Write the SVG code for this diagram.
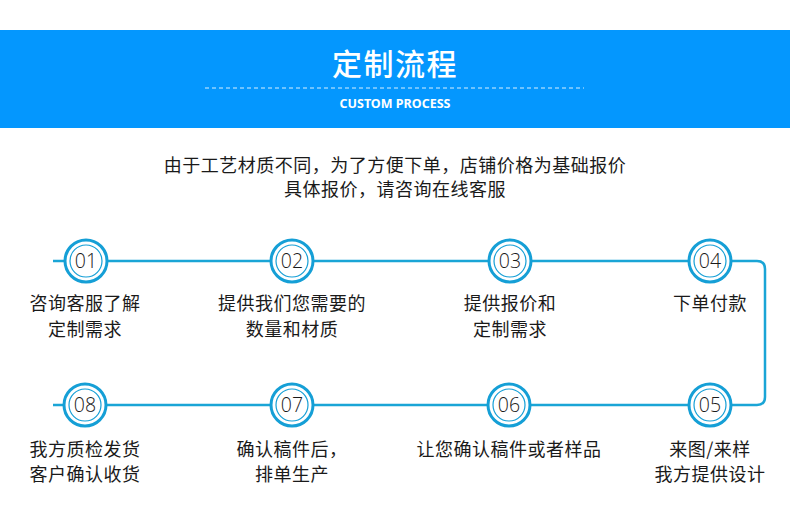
<svg xmlns="http://www.w3.org/2000/svg" width="790" height="505" viewBox="0 0 790 505">
<style>
.cn{font-family:"Noto Sans CJK SC","Noto Sans",sans-serif;font-size:18px;fill:#1a1a1a;text-anchor:middle;letter-spacing:0.5px}
.num{font-family:"Open Sans","Noto Sans",sans-serif;font-size:19.5px;font-weight:300;fill:#1a1a1a;text-anchor:middle}
.outer{fill:#fff;stroke:#159fd6;stroke-width:3}
.inner{fill:none;stroke:#159fd6;stroke-width:1.2}
.conn{fill:none;stroke:#1aa5d6;stroke-width:2.5}
</style>
<rect x="0" y="0" width="790" height="505" fill="#fff"/>
<g id="header">
<rect x="0" y="30" width="790" height="98" fill="#0497fe"/>
<text x="395" y="75" font-family="Noto Sans CJK SC,sans-serif" font-size="30" font-weight="500" fill="#fff" text-anchor="middle" letter-spacing="1.5">定制流程</text>
<line x1="205" y1="88" x2="584" y2="88" stroke="#fff" stroke-width="1" stroke-dasharray="4,3" opacity="0.85"/>
<text x="395" y="108" font-family="Noto Sans,sans-serif" font-size="12.5" font-weight="bold" fill="#fff" text-anchor="middle">CUSTOM PROCESS</text>
</g>
<g id="intro">
<text class="cn" x="395" y="172">由于工艺材质不同，为了方便下单，店铺价格为基础报价</text>
<text class="cn" x="395" y="196">具体报价，请咨询在线客服</text>
</g>
<g id="connectors">
<path class="conn" d="M53,261 H757 Q765,261 765,269 V397 Q765,405 757,405 H53"/>
</g>
<g id="step01">
<circle class="outer" cx="86" cy="261" r="21"/><circle class="inner" cx="86" cy="261" r="16"/>
<text class="num" x="86" y="268">01</text>
<text class="cn" x="85" y="310">咨询客服了解</text>
<text class="cn" x="85" y="336">定制需求</text>
</g>
<g id="step02">
<circle class="outer" cx="292" cy="261" r="21"/><circle class="inner" cx="292" cy="261" r="16"/>
<text class="num" x="292" y="268">02</text>
<text class="cn" x="292" y="310">提供我们您需要的</text>
<text class="cn" x="292" y="336">数量和材质</text>
</g>
<g id="step03">
<circle class="outer" cx="510" cy="261" r="21"/><circle class="inner" cx="510" cy="261" r="16"/>
<text class="num" x="510" y="268">03</text>
<text class="cn" x="510" y="310">提供报价和</text>
<text class="cn" x="510" y="336">定制需求</text>
</g>
<g id="step04">
<circle class="outer" cx="710" cy="261" r="21"/><circle class="inner" cx="710" cy="261" r="16"/>
<text class="num" x="710" y="268">04</text>
<text class="cn" x="710" y="310">下单付款</text>
</g>
<g id="step05">
<circle class="outer" cx="710" cy="405" r="21"/><circle class="inner" cx="710" cy="405" r="16"/>
<text class="num" x="710" y="412">05</text>
<text class="cn" x="710" y="456">来图/来样</text>
<text class="cn" x="710" y="481">我方提供设计</text>
</g>
<g id="step06">
<circle class="outer" cx="509" cy="405" r="21"/><circle class="inner" cx="509" cy="405" r="16"/>
<text class="num" x="509" y="412">06</text>
<text class="cn" x="509" y="456">让您确认稿件或者样品</text>
</g>
<g id="step07">
<circle class="outer" cx="292" cy="405" r="21"/><circle class="inner" cx="292" cy="405" r="16"/>
<text class="num" x="292" y="412">07</text>
<text class="cn" x="292" y="456">确认稿件后，</text>
<text class="cn" x="292" y="481">排单生产</text>
</g>
<g id="step08">
<circle class="outer" cx="85" cy="405" r="21"/><circle class="inner" cx="85" cy="405" r="16"/>
<text class="num" x="85" y="412">08</text>
<text class="cn" x="85" y="456">我方质检发货</text>
<text class="cn" x="85" y="481">客户确认收货</text>
</g>
</svg>
